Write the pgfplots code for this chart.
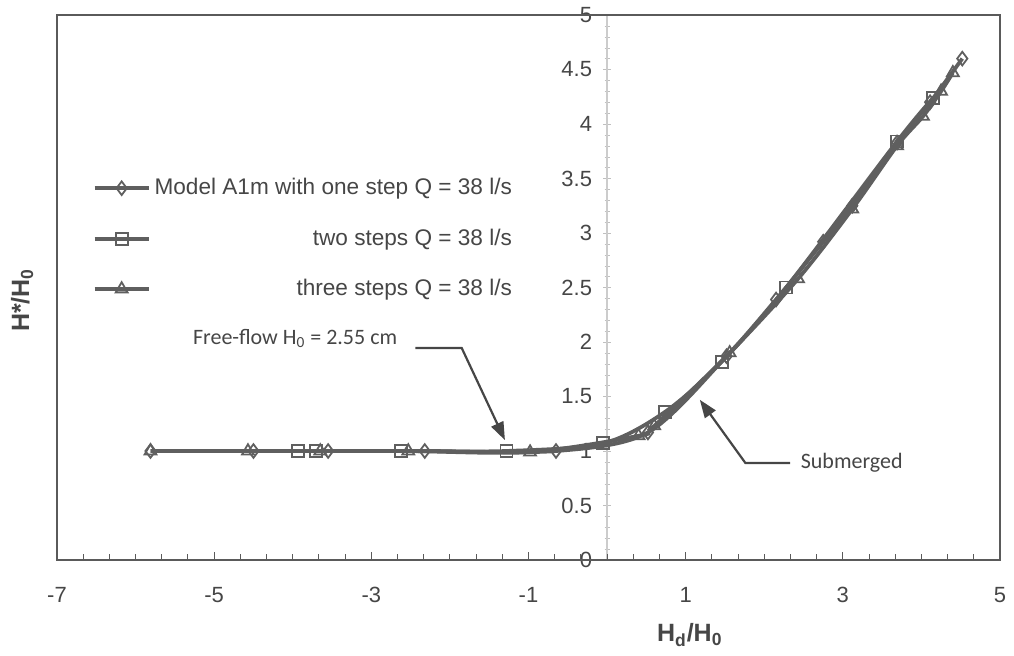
\documentclass[border=0pt]{standalone}
\usepackage{pgfplots}
\pgfplotsset{compat=1.18}
\usepackage{fontspec}
\setmainfont{Liberation Sans}
\newfontfamily\calib{Carlito}
\usetikzlibrary{calc,arrows.meta}

\definecolor{lin}{RGB}{95,95,95}
\definecolor{frm}{RGB}{90,90,90}
\definecolor{txt}{RGB}{70,70,70}

\begin{document}
\begin{tikzpicture}
\pgfplotsset{
  common/.style={scale only axis, width=471.5pt, height=272.5pt,
    xmin=-7, xmax=5, ymin=0, ymax=5,
    /pgf/number format/assume math mode=true},
  ser/.style={lin, line width=1.9pt, smooth,
    mark options={solid, fill=black!8, draw=lin, line width=0.9pt}},
}
% y axis drawn at x = 0
\begin{axis}[common,
  axis x line=none, axis y line=middle,
  y axis line style={-, draw=black!20, line width=0.6pt},
  ytick={0,0.5,1,1.5,2,2.5,3,3.5,4,4.5,5},
  yticklabels={0,0.5,1,1.5,2,2.5,3,3.5,4,4.5,5},
  minor y tick num=4,
  tick style={black!25},
  major tick length=4pt, minor tick length=2.5pt,
  yticklabel style={txt, font=\fontsize{11}{13}\selectfont, xshift=-2pt},
]
\end{axis}

\begin{axis}[common,
  axis line style={frm, line width=0.9pt},
  xtick={-7,-5,-3,-1,1,3,5},
  minor x tick num=5,
  ytick=\empty,
  xtick pos=bottom, tick align=inside,
  tick style={frm, line width=0.5pt},
  major tick length=4pt, minor tick length=3pt,
  xticklabel style={txt, font=\fontsize{11}{13}\selectfont, yshift=-10pt},
  xlabel={\textbf{H\textsubscript{d}/H\textsubscript{0}}},
  xlabel style={txt, font=\fontsize{12.5}{14}\selectfont,
    at={(axis description cs:0.671,-0.138)}, anchor=center},
  ylabel={\textbf{H*/H\textsubscript{0}}},
  ylabel style={txt, font=\fontsize{12.5}{14}\selectfont,
    at={(axis description cs:-0.037,0.477)}, anchor=center, rotate=0},
  legend cell align=right,
  legend image code/.code={\draw[mark repeat=2,mark phase=2]
    plot coordinates {(0pt,0pt) (13.5pt,0pt) (27pt,0pt)};},
  legend style={at={(axis cs:-6.55,3.54)}, anchor=north west,
    draw=none, fill=none, text=txt,
    font=\fontsize{11.3}{13}\selectfont, row sep=11.5pt,
    inner sep=0pt},
]
\coordinate (sw) at (rel axis cs:0,0);
\coordinate (ne) at (rel axis cs:1,1);

% Model A1m, one step
\addplot[ser, mark=diamond, mark size=3.4pt] coordinates {
  (-5.81,1.00) (-4.50,1.00) (-3.55,1.00) (-2.32,1.00) (-0.65,1.00)
  (0.52,1.17) (1.52,1.87) (2.15,2.39) (2.75,2.92) (3.12,3.25)
  (3.69,3.83) (4.11,4.20) (4.52,4.60)
};
% two steps
\addplot[ser, mark=square, mark size=3pt] coordinates {
  (-3.93,1.00) (-3.70,1.00) (-2.62,1.00) (-1.28,1.00) (-0.05,1.07)
  (0.74,1.36) (1.46,1.82) (2.28,2.50) (3.69,3.84) (4.15,4.24)
};
% three steps
\addplot[ser, mark=triangle, mark size=3.4pt] coordinates {
  (-5.81,1.00) (-4.57,1.00) (-3.65,1.00) (-2.53,1.00) (-0.98,0.99)
  (0.40,1.14) (0.60,1.23) (1.56,1.90) (2.43,2.58) (3.12,3.22)
  (3.69,3.80) (4.02,4.07) (4.25,4.30) (4.40,4.47)
};
\legend{Model A1m with one step Q = 38 l/s,
  two steps Q = 38 l/s,
  three steps Q = 38 l/s}

% annotations
\draw[txt, line width=1.1pt, -{Triangle[length=9pt,width=6.5pt]}]
  (axis cs:-2.44,1.945) -- (axis cs:-1.85,1.945) -- (axis cs:-1.30,1.10);
\node[txt, font=\calib\fontsize{11}{13}\selectfont] at (axis cs:-3.97,2.03)
  {Free-flow H\textsubscript{0} = 2.55 cm};
\draw[txt, line width=1.1pt, -{Triangle[length=9pt,width=6.5pt]}]
  (axis cs:2.33,0.89) -- (axis cs:1.76,0.89) -- (axis cs:1.18,1.47);
\node[txt, anchor=west, inner sep=0pt, font=\calib\fontsize{11}{13}\selectfont]
  at (axis cs:2.46,0.89) {Submerged};
\end{axis}
\pgfresetboundingbox
\path ($(sw)+(-28.5pt,-47.5pt)$) rectangle ($(ne)+(7pt,7.5pt)$);
\end{tikzpicture}
\end{document}
